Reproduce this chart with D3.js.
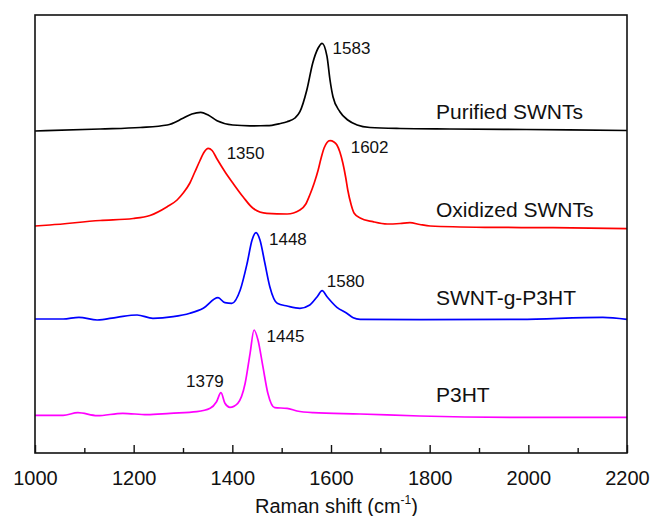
<!DOCTYPE html>
<html>
<head>
<meta charset="utf-8">
<script src="https://cdn.jsdelivr.net/npm/d3@7/dist/d3.min.js"></script>
<style>
  html, body { margin: 0; padding: 0; background: #fff; }
  text { font-family: "Liberation Sans", Arial, sans-serif; fill: #111; }
</style>
</head>
<body>
<svg id="chart" width="654" height="516"></svg>
<script>
// ---- Data (Raman shift in cm^-1, intensity in a.u.) ----
const seriesNames = ["Purified SWNTs", "Oxidized SWNTs", "SWNT-g-P3HT", "P3HT"];
const seriesColors = ["#000000", "#ff0000", "#0000ff", "#ff00ff"];
const seriesOffsets = [320, 224, 134, 37];

const purifiedShift = [1000,1132,1213,1268,1300,1318,1336,1351,1369,1401,1436,1470,1497,1511,1527,1537,1551,1563,1574,1582,1592,1598,1604,1618,1634,1653,1679,1740,1841,1997,2200];
const purifiedInt   = [2,4,5.5,8,14.7,19,20.7,18,12.3,8,7.2,7.3,9.5,11.3,15,21.3,43,70,85,89.7,76.3,53,36.3,21.3,13,8,5.5,4.5,4,3.5,2.5];

const oxidizedShift = [1000,1030,1132,1199,1233,1268,1288,1300,1314,1324,1334,1343,1351,1359,1369,1385,1401,1422,1442,1470,1511,1537,1549,1557,1566,1574,1580,1586,1592,1598,1606,1612,1618,1624,1630,1634,1641,1647,1659,1685,1714,1740,1760,1780,1801,1916,2050,2200];
const oxidizedInt   = [3,4,8.5,10.5,13.5,22.3,29,35.7,46,57,68,77,80.7,78.5,70,57.3,46,32,20.7,15.7,15,19,25,34,46,59,71,81,86.5,88.3,87,84,77,66,51,39,24,15.7,11,7.3,5,5.5,6.3,4.5,3,1.7,1.3,0.3];

const graftShift = [1000,1057,1089,1126,1166,1207,1239,1280,1314,1341,1371,1385,1399,1416,1430,1440,1448,1456,1466,1476,1491,1511,1537,1557,1572,1582,1592,1612,1632,1645,1659,1780,1983,2151,2200];
const graftInt   = [0,0,1.7,-1,1.7,4,0.7,2.3,5.7,10.7,21.3,16.3,15.7,29,55.7,79,86.3,79,55.7,32.3,15.7,13,10.7,14,22.3,28.3,22.3,11.7,5.7,1.3,-0.3,-0.7,-0.3,1.7,-0.3];

const p3htShift = [1000,1057,1087,1126,1178,1227,1274,1328,1355,1368,1377,1385,1395,1411,1426,1436,1444,1452,1462,1472,1486,1511,1531,1564,1659,1780,1983,2200];
const p3htInt   = [0.7,0.7,3.3,0.3,2.7,1.3,2.7,4.3,7.7,14.3,23.3,12.7,8.7,12.7,32.7,62.7,86,76,49.3,22.7,8.3,7.7,5,3.3,2,0,-1.3,-1.3];

const seriesShifts = [purifiedShift, oxidizedShift, graftShift, p3htShift];
const seriesInts   = [purifiedInt, oxidizedInt, graftInt, p3htInt];

// peak annotations
const peakLabels = ["1583", "1350", "1602", "1448", "1580", "1445", "1379"];
const peakShift  = [1583, 1350, 1602, 1448, 1580, 1445, 1379];

const xTicks = [1000, 1200, 1400, 1600, 1800, 2000, 2200];
const xMinorTicks = [1100, 1300, 1500, 1700, 1900, 2100];

// ---- Layout ----
const svg = d3.select("#chart");
const M = { left: 35, right: 627, top: 15, bottom: 453 };

const x = d3.scaleLinear().domain([1000, 2200]).range([M.left, M.right]);
const y = d3.scaleLinear().domain([0, 438]).range([M.bottom, M.top]);

const line = d3.line()
  .x(d => x(d[0]))
  .y(d => y(d[1]))
  .curve(d3.curveMonotoneX);

// curves
seriesNames.forEach((name, i) => {
  const pts = seriesShifts[i].map((s, k) => [s, seriesInts[i][k] + seriesOffsets[i]]);
  svg.append("path")
    .datum(pts)
    .attr("d", line)
    .attr("fill", "none")
    .attr("stroke", seriesColors[i])
    .attr("stroke-width", 1.7)
    .attr("stroke-linejoin", "round");
});

// frame
svg.append("rect")
  .attr("x", M.left).attr("y", M.top)
  .attr("width", M.right - M.left).attr("height", M.bottom - M.top)
  .attr("fill", "none").attr("stroke", "#111").attr("stroke-width", 1.6);

// bottom axis with inward ticks
const axis = svg.append("g").attr("transform", `translate(0,${M.bottom})`);
axis.call(d3.axisBottom(x).tickValues(xTicks).tickSize(-8).tickFormat(d3.format("d")).tickPadding(18))
  .call(g => g.select(".domain").remove());
axis.selectAll(".tick line").attr("stroke", "#111").attr("stroke-width", 1.4);
axis.selectAll(".tick text")
  .attr("font-size", 20)
  .attr("fill", "#111")
  .style("font-family", "'Liberation Sans', Arial, sans-serif");

const minor = svg.append("g").attr("transform", `translate(0,${M.bottom})`);
minor.call(d3.axisBottom(x).tickValues(xMinorTicks).tickSize(-5).tickFormat(""))
  .call(g => g.select(".domain").remove());
minor.selectAll(".tick line").attr("stroke", "#111").attr("stroke-width", 1.4);

// axis title
const title = svg.append("text")
  .attr("x", 255).attr("y", 513)
  .attr("font-size", 20);
title.append("tspan").text("Raman shift (cm");
title.append("tspan").text("-1").attr("font-size", 12).attr("dy", -9);
title.append("tspan").text(")").attr("dy", 9);

// series labels
const seriesLabelY = [119, 217, 305, 402];
seriesNames.forEach((name, i) => {
  svg.append("text")
    .attr("x", 436).attr("y", seriesLabelY[i])
    .attr("font-size", 21)
    .text(name);
});

// peak labels (placed relative to each peak position)
const peakDx = [10, 19, 18.7, 13, 5.6, 12, -36];
const peakBaseline = [54, 159, 153, 245, 287, 342, 387];
peakLabels.forEach((t, i) => {
  svg.append("text")
    .attr("x", x(peakShift[i]) + peakDx[i])
    .attr("y", peakBaseline[i])
    .attr("font-size", 17)
    .text(t);
});
</script>
</body>
</html>
